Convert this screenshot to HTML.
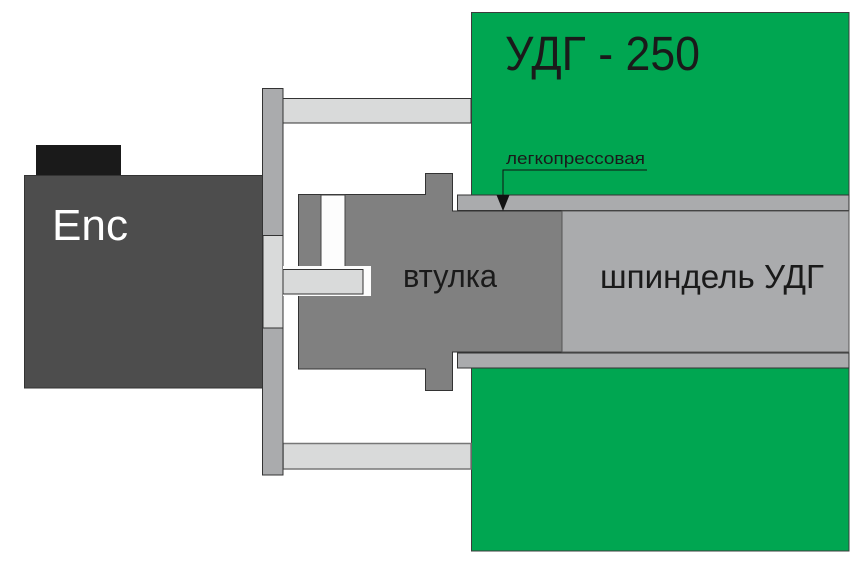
<!DOCTYPE html>
<html><head><meta charset="utf-8"><style>
html,body{margin:0;padding:0;background:#fff;}
svg{display:block;}
text{font-family:"Liberation Sans",Arial,sans-serif;}
</style></head><body>
<svg width="866" height="568" viewBox="0 0 866 568" xmlns="http://www.w3.org/2000/svg">
<rect x="0" y="0" width="866" height="568" fill="#fff"/>
<!-- green housing -->
<rect x="471.5" y="12.5" width="377.5" height="538.5" fill="#00a651" stroke="#3c3c3c" stroke-width="1"/>
<!-- rods -->
<rect x="283" y="98.5" width="188" height="24.5" fill="#d9dada" stroke="#333" stroke-width="1"/>
<rect x="283" y="443.5" width="188" height="25.5" fill="#d9dada" stroke="#777" stroke-width="1.5"/>
<!-- encoder -->
<rect x="36" y="145" width="85" height="30" fill="#1a1a1a"/>
<rect x="24.5" y="175.5" width="238.5" height="212.5" fill="#4d4d4d" stroke="#333" stroke-width="1"/>
<!-- plate -->
<rect x="262.5" y="88.5" width="20.5" height="386.5" fill="#aaabad" stroke="#333" stroke-width="1"/>
<rect x="263" y="235.5" width="20" height="92.5" fill="#d9dada" stroke="#333" stroke-width="1"/>
<!-- bushing -->
<polygon points="298.5,194.5 425.5,194.5 425.5,173.5 452.5,173.5 452.5,211 562,211 562,352 452.5,352 452.5,390.5 425.5,390.5 425.5,369 298.5,369" fill="#808080" stroke="#333" stroke-width="1"/>
<!-- slot -->
<rect x="321" y="195" width="24" height="72" fill="#fdfdfd" stroke="#444" stroke-width="1"/>
<rect x="283" y="266" width="88" height="30" fill="#fdfdfd"/>
<rect x="283" y="269.5" width="80" height="24.5" fill="#d9dada" stroke="#333" stroke-width="1"/>
<!-- spindle -->
<rect x="457.5" y="195" width="391.5" height="15.5" fill="#aaabad" stroke="#333" stroke-width="1"/>
<rect x="457.5" y="353" width="391.5" height="15" fill="#aaabad" stroke="#333" stroke-width="1"/>
<rect x="562" y="211" width="287" height="141" fill="#aaabad" stroke="#555" stroke-width="1"/>
<!-- leader -->
<polyline points="647,170 503,170 503,196" fill="none" stroke="#111" stroke-width="1"/>
<polygon points="496.5,195 509.5,195 503,211" fill="#111"/>
<!-- text -->
<text x="505" y="70" font-size="48" fill="#1a1a1a" textLength="195" lengthAdjust="spacingAndGlyphs">УДГ - 250</text>
<text x="52" y="240" font-size="44" fill="#fff" textLength="76" lengthAdjust="spacingAndGlyphs">Enc</text>
<text x="403" y="287" font-size="32" fill="#1a1a1a" textLength="94" lengthAdjust="spacingAndGlyphs">втулка</text>
<text x="600" y="288" font-size="33" fill="#1a1a1a" textLength="224" lengthAdjust="spacingAndGlyphs">шпиндель УДГ</text>
<text x="506" y="164" font-size="17" fill="#1a1a1a" textLength="139" lengthAdjust="spacingAndGlyphs">легкопрессовая</text>
</svg>
</body></html>
